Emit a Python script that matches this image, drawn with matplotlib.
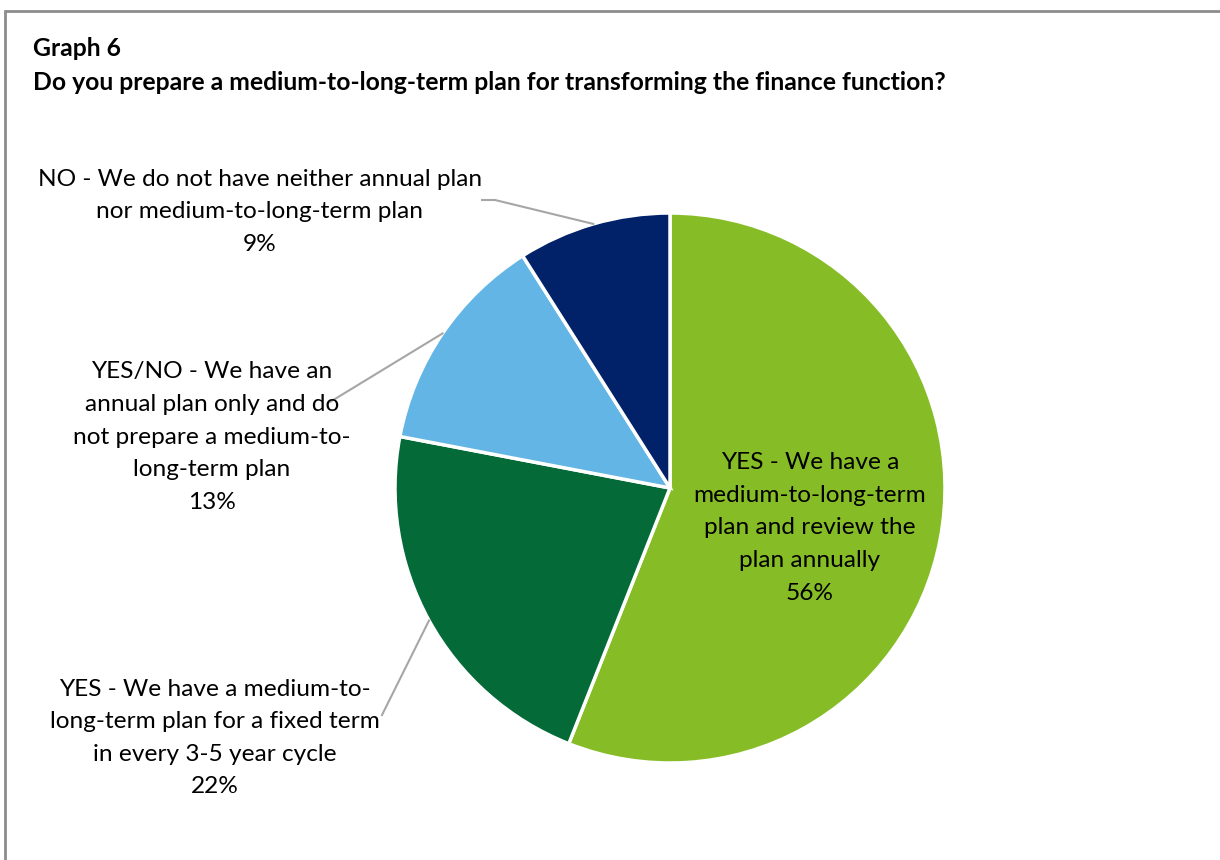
import numpy as np
import matplotlib.pyplot as plt
from matplotlib.patches import Rectangle

labels = [
    "YES - We have a\nmedium-to-long-term\nplan and review the\nplan annually",
    "YES - We have a medium-to-\nlong-term plan for a fixed term\nin every 3-5 year cycle",
    "YES/NO - We have an\nannual plan only and do\nnot prepare a medium-to-\nlong-term plan",
    "NO - We do not have neither annual plan\nnor medium-to-long-term plan",
]
shares = [56, 22, 13, 9]
colors = ["#86BC25", "#046A38", "#62B5E5", "#012169"]

plt.rcParams["font.family"] = ["Lato", "DejaVu Sans"]

W, H = 1220, 860
fig = plt.figure(figsize=(W / 100, H / 100), dpi=100)
ax = fig.add_axes([0, 0, 1, 1])

# outer chart frame (right and bottom edges run off the image)
ax.add_patch(Rectangle((5, -20), W + 40, H - 11 + 20, fill=False,
                       edgecolor="#8c8c8c", linewidth=2))

ax.text(33, H - 48, "Graph 6", fontsize=17.8, fontweight="bold", va="center")
ax.text(33, H - 82, "Do you prepare a medium-to-long-term plan for transforming the finance function?",
        fontsize=17.8, fontweight="bold", va="center")

cx, cy, r = 670, H - 488, 275
wedges, _ = ax.pie(shares, colors=colors, startangle=90, counterclock=False,
                   center=(cx, cy), radius=r, frame=True,
                   wedgeprops=dict(edgecolor="white", linewidth=2.5))
ax.set_xlim(0, W)
ax.set_ylim(0, H)
ax.set_aspect("equal")
ax.axis("off")

# label block centres and leader-line elbows
label_pos = [(810, H - 528), (215, H - 738), (212, H - 437), (260, H - 212)]
elbows = [None, [(382, H - 715)], [(330, H - 402)], [(482, H - 200), (495, H - 200)]]

for w, lab, s, (tx, ty), elb in zip(wedges, labels, shares, label_pos, elbows):
    ax.text(tx, ty, f"{lab}\n{s}%", ha="center", va="center", fontsize=17.6,
            linespacing=1.68)
    if elb:
        mid = np.deg2rad((w.theta1 + w.theta2) / 2)
        ex, ey = cx + r * np.cos(mid), cy + r * np.sin(mid)
        pts = elb + [(ex, ey)]
        ax.plot([p[0] for p in pts], [p[1] for p in pts], color="#a6a6a6", lw=1.5)

fig.savefig("out.png", dpi=100)
